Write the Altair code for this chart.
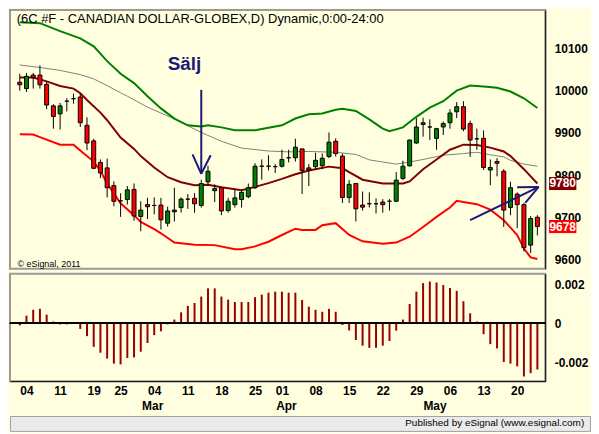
import json
import altair as alt
import numpy as np
import pandas as pd

# ---------------- data ----------------
opens = [10020, 10005, 10037, 10037, 10015, 9964, 9945, 9975, 9981, 9985,
         9918, 9881, 9830, 9817, 9775, 9739, 9742, 9766, 9702, 9730,
         9728, 9729, 9686, 9713, 9723, 9743, 9745, 9728, 9784, 9763,
         9770, 9716, 9730, 9742, 9749, 9770, 9821, 9821, 9820, 9821,
         9841, 9841, 9862, 9817, 9820, 9822, 9844, 9880, 9845, 9747,
         9780, 9729, 9732, 9732, 9736, 9738, 9738, 9792, 9822, 9876,
         9920, 9914, 9887, 9914, 9924, 9950, 9962, 9922, 9886, 9887,
         9812, 9832, 9809, 9723, 9755, 9730, 9634, 9700]
highs = [10040, 10042, 10042, 10060, 10021, 9968, 9971, 9982, 9993, 9993,
         9937, 9886, 9837, 9839, 9785, 9757, 9774, 9780, 9738, 9746,
         9747, 9746, 9725, 9770, 9747, 9755, 9757, 9789, 9822, 9778,
         9772, 9746, 9766, 9765, 9780, 9828, 9837, 9847, 9826, 9860,
         9860, 9886, 9862, 9826, 9853, 9851, 9901, 9887, 9851, 9788,
         9780, 9761, 9759, 9745, 9743, 9743, 9807, 9834, 9884, 9935,
         9936, 9932, 9912, 9927, 9956, 9973, 9975, 9929, 9910, 9906,
         9837, 9840, 9814, 9784, 9759, 9734, 9703, 9705]
lows = [10000, 9997, 10005, 10005, 9956, 9910, 9908, 9951, 9969, 9914,
        9859, 9814, 9793, 9747, 9726, 9701, 9730, 9692, 9667, 9696,
        9707, 9671, 9678, 9690, 9711, 9720, 9711, 9723, 9778, 9736,
        9705, 9711, 9723, 9723, 9745, 9767, 9789, 9811, 9805, 9818,
        9830, 9832, 9755, 9774, 9814, 9814, 9840, 9844, 9734, 9734,
        9690, 9716, 9723, 9709, 9711, 9716, 9736, 9788, 9820, 9874,
        9891, 9883, 9860, 9895, 9910, 9935, 9904, 9843, 9860, 9812,
        9776, 9797, 9677, 9705, 9674, 9619, 9615, 9657]
closes = [10014, 10034, 10031, 10014, 9966, 9939, 9964, 9975, 9981, 9924,
          9876, 9816, 9805, 9770, 9738, 9739, 9765, 9703, 9717, 9725,
          9728, 9694, 9715, 9717, 9743, 9743, 9732, 9780, 9809, 9768,
          9715, 9738, 9746, 9759, 9770, 9821, 9821, 9821, 9820, 9837,
          9841, 9866, 9811, 9812, 9835, 9840, 9878, 9851, 9747, 9778,
          9720, 9724, 9732, 9732, 9730, 9738, 9788, 9821, 9883, 9914,
          9924, 9914, 9910, 9922, 9947, 9962, 9909, 9883, 9886, 9818,
          9818, 9828, 9717, 9770, 9730, 9628, 9697, 9678]

oscillator = [-0.0001, 0.0004, 0.0007, 0.00075, 0.00045, 0.0001, -0.00005, -0.00005, 0.00002, -0.00028,
              -0.00065, -0.0012, -0.0015, -0.0018, -0.00206, -0.0021, -0.00177, -0.00174, -0.00145, -0.001,
              -0.0006, -0.0004, -0.00005, 0.0002, 0.00057, 0.0009, 0.00105, 0.00138, 0.0018, 0.0018,
              0.00138, 0.00122, 0.0011, 0.0011, 0.0011, 0.00135, 0.00148, 0.00158, 0.00163, 0.00163,
              0.00158, 0.00158, 0.0012, 0.00086, 0.0007, 0.0006, 0.00075, 0.0006, -0.00008, -0.00036,
              -0.00085, -0.00114, -0.00125, -0.00125, -0.00114, -0.0009, -0.00037, 0.0002, 0.001, 0.00163,
              0.00207, 0.00215, 0.0021, 0.00197, 0.00182, 0.00167, 0.00114, 0.00052, 0.0001, -0.00055,
              -0.00106, -0.00128, -0.00198, -0.00206, -0.0022, -0.00272, -0.00255, -0.00236]

upper_idx = [0, 3, 6, 9, 11, 13, 15, 17, 19, 21, 23, 25, 27, 28, 30, 32, 35, 37, 39, 41, 43, 45, 47, 48,
             50, 52, 54, 55, 57, 59, 61, 63, 65, 67, 69, 71, 73, 75, 77]
upper_val = [10162, 10160, 10141, 10124, 10105, 10070, 10040, 10018, 9987, 9958, 9934, 9918, 9915, 9918,
             9913, 9906, 9906, 9912, 9918, 9934, 9944, 9946, 9955, 9957, 9952, 9932, 9910, 9904, 9913,
             9938, 9960, 9975, 10000, 10012, 10010, 10007, 9998, 9982, 9959]

mid_idx = [0, 2, 4, 6, 8, 9, 10, 12, 13, 15, 17, 18, 20, 22, 24, 26, 28, 30, 33, 35, 37, 39, 41, 43,
           46, 48, 49, 51, 54, 57, 58, 60, 62, 64, 66, 68, 70, 72, 73, 75, 77]
mid_val = [10031, 10031, 10022, 10011, 10005, 9994, 9978, 9948, 9930, 9889, 9862, 9845, 9818, 9795,
           9783, 9776, 9777, 9771, 9764, 9772, 9781, 9791, 9802, 9811, 9820, 9816, 9807, 9789, 9780,
           9780, 9785, 9814, 9837, 9860, 9872, 9871, 9865, 9856, 9845, 9814, 9780]

lower_idx = [0, 2, 3, 6, 8, 9, 11, 12, 13, 15, 17, 18, 20, 21, 23, 26, 29, 32, 33, 35, 37, 39, 41, 42,
             44, 45, 47, 48, 49, 51, 54, 56, 58, 60, 62, 64, 65, 66, 68, 70, 72, 74, 75, 76, 77]
lower_val = [9897, 9896, 9890, 9872, 9872, 9858, 9832, 9810, 9780, 9733, 9705, 9689, 9672, 9662, 9640,
             9635, 9634, 9624, 9624, 9631, 9642, 9658, 9673, 9670, 9670, 9681, 9686, 9672, 9658, 9643,
             9637, 9640, 9654, 9677, 9701, 9723, 9739, 9736, 9731, 9718, 9693, 9658, 9626, 9605, 9601]

avg_idx = [0, 3, 6, 9, 11, 13, 15, 16, 19, 23, 27, 30, 33, 37, 40, 43, 47, 50, 52, 54, 56, 58, 60, 63,
           66, 68, 70, 72, 73, 75, 77]
avg_val = [10061, 10055, 10048, 10038, 10028, 10012, 9995, 9987, 9961, 9933, 9901, 9880, 9864, 9857,
           9855, 9856, 9854, 9849, 9836, 9831, 9826, 9831, 9837, 9847, 9851, 9854, 9848, 9843, 9835,
           9826, 9821]

day_idx = [1, 6, 11, 15, 20, 25, 30, 35, 39, 44, 49, 54, 59, 64, 69, 74]
day_lab = ["04", "11", "19", "25", "04", "11", "18", "25", "01", "08", "15", "22", "29", "06", "13", "20"]
month_pos = [19.7, 39.6, 61.7]
month_lab = ["Mar", "Apr", "May"]

price_ticks = [9600, 9700, 9800, 9900, 10000, 10100]
osc_ticks = [-0.002, 0, 0.002]

title_text = "(6C #F - CANADIAN DOLLAR-GLOBEX,D) Dynamic,0:00-24:00"
copyright_text = "\u00a9 eSignal, 2011"
signal_text = "S\u00e4lj"
footer_text = "Published by eSignal (www.esignal.com)"

# annotation arrows (in index / price units)
arrow_x1 = [27, 25.7, 28.4, 67, 74, 75.2]
arrow_y1 = [10002, 9849, 9847, 9693, 9771, 9734]
arrow_x2 = [27, 27, 27, 77.2, 77.2, 77.2]
arrow_y2 = [9803, 9803, 9803, 9772, 9772, 9772]

last_labels = ["9780", "9678"]
last_values = [9780, 9678]
last_colors = ["#800000", "#FF0000"]

# ---------------- chart ----------------
BG = "#FFFFE0"
FONT = "Liberation Sans"
W = 538
TOP_H = 260
BOT_H = 108
XDOM = [-0.714, 77.43]
YDOM = [9578, 10191]
ODOM = [-0.00296, 0.00255]

n = len(opens)
o = np.array(opens)
c = np.array(closes)
candles = pd.DataFrame({"i": np.arange(n), "open": opens, "high": highs, "low": lows, "close": closes,
                        "dir": np.where(c > o, "up", np.where(c < o, "down", "flat"))})

xs = alt.Scale(domain=XDOM, nice=False, zero=False)
ys = alt.Scale(domain=YDOM, nice=False, zero=False)

price_axis = alt.Axis(orient="right", values=price_ticks, format="d", ticks=False, grid=False,
                      domainColor="black", domainWidth=1, labelFont=FONT, labelFontWeight="bold",
                      labelFontSize=12, labelColor="black", labelPadding=9, title=None)


def line_layer(idx, val, color, width):
    df = pd.DataFrame({"i": idx, "v": val})
    return alt.Chart(df).mark_line(color=color, strokeWidth=width).encode(
        x=alt.X("i:Q", scale=xs, axis=None),
        y=alt.Y("v:Q", scale=ys, axis=price_axis))


gray_l = line_layer(avg_idx, avg_val, "#808080", 1)
upper_l = line_layer(upper_idx, upper_val, "#008000", 2)
lower_l = line_layer(lower_idx, lower_val, "#FF0000", 2)
mid_l = line_layer(mid_idx, mid_val, "#800000", 2)

wick = alt.Chart(candles).mark_rule(color="black", strokeWidth=1).encode(
    x=alt.X("i:Q", scale=xs, axis=None),
    y=alt.Y("low:Q", scale=ys, axis=price_axis),
    y2="high:Q")
body = alt.Chart(candles).mark_bar(width=4, stroke="black", strokeWidth=1).encode(
    x=alt.X("i:Q", scale=xs, axis=None),
    y=alt.Y("open:Q", scale=ys, axis=price_axis),
    y2="close:Q",
    color=alt.Color("dir:N", scale=alt.Scale(domain=["up", "down", "flat"],
                                             range=["#008000", "#FF0000", "#000000"]), legend=None))

arrows_df = pd.DataFrame({"x1": arrow_x1, "y1": arrow_y1, "x2": arrow_x2, "y2": arrow_y2})
arrows = alt.Chart(arrows_df).mark_rule(color="#1A1A78", strokeWidth=2).encode(
    x=alt.X("x1:Q", scale=xs, axis=None), y=alt.Y("y1:Q", scale=ys, axis=price_axis),
    x2="x2:Q", y2="y2:Q")

txt_df = pd.DataFrame({"x": [-0.45], "y": [10170], "t": [title_text]})
title_t = alt.Chart(txt_df).mark_text(align="left", baseline="middle", font=FONT, fontSize=13,
                                      color="black").encode(
    x=alt.X("x:Q", scale=xs, axis=None), y=alt.Y("y:Q", scale=ys, axis=price_axis), text="t:N")

copy_df = pd.DataFrame({"x": [-0.35], "y": [9590], "t": [copyright_text]})
copy_t = alt.Chart(copy_df).mark_text(align="left", baseline="middle", font=FONT, fontSize=9,
                                      color="black").encode(
    x=alt.X("x:Q", scale=xs, axis=None), y=alt.Y("y:Q", scale=ys, axis=price_axis), text="t:N")

sig_df = pd.DataFrame({"x": [24.5], "y": [10063], "t": [signal_text]})
sig_t = alt.Chart(sig_df).mark_text(align="center", baseline="middle", font=FONT, fontSize=19,
                                    fontWeight="bold", color="#1A1A78").encode(
    x=alt.X("x:Q", scale=xs, axis=None), y=alt.Y("y:Q", scale=ys, axis=price_axis), text="t:N")

box_df = pd.DataFrame({"x1": [78.74] * 2, "x2": [82.8] * 2,
                       "lo": [v - 15.5 for v in last_values], "hi": [v + 15.5 for v in last_values],
                       "v": last_values, "t": last_labels, "c": last_colors, "xm": [80.77] * 2})
boxes = alt.Chart(box_df).mark_rect().encode(
    x=alt.X("x1:Q", scale=xs, axis=None), x2="x2:Q",
    y=alt.Y("lo:Q", scale=ys, axis=price_axis), y2="hi:Q",
    color=alt.Color("c:N", scale=None))
box_t = alt.Chart(box_df).mark_text(align="center", baseline="middle", font=FONT, fontSize=12,
                                    fontWeight="bold", color="white").encode(
    x=alt.X("xm:Q", scale=xs, axis=None), y=alt.Y("v:Q", scale=ys, axis=price_axis), text="t:N")

top = alt.layer(gray_l, upper_l, lower_l, mid_l, wick, body, arrows, title_t, copy_t, sig_t,
                boxes, box_t).properties(
    width=W, height=TOP_H,
    view=alt.ViewBackground(fill=BG, stroke="#9A9A9A", strokeWidth=2))

# lower panel
osc_df = pd.DataFrame({"i": np.arange(n), "v": oscillator})
os_ = alt.Scale(domain=ODOM, nice=False, zero=False)
day_expr = "%s[indexof(%s, datum.value)]" % (json.dumps(day_lab), json.dumps(day_idx))
mon_expr = "%s[indexof(%s, datum.value)]" % (json.dumps(month_lab), json.dumps(month_pos))
osc_axis = alt.Axis(orient="right", values=osc_ticks, ticks=False, grid=False, domainColor="black",
                    labelFont=FONT, labelFontWeight="bold", labelFontSize=12, labelColor="black",
                    labelPadding=9, title=None,
                    labelExpr="datum.value > 0.001 ? '0.002' : (datum.value < -0.001 ? '-0.002' : '0')")
day_axis = alt.Axis(orient="bottom", values=day_idx, labelExpr=day_expr, ticks=False, grid=False,
                    domainColor="black", labelFont=FONT, labelFontWeight="bold", labelFontSize=12,
                    labelColor="black", labelPadding=4, title=None)
mon_axis = alt.Axis(orient="bottom", values=month_pos, labelExpr=mon_expr, ticks=False, grid=False,
                    domain=False, labelFont=FONT, labelFontWeight="bold", labelFontSize=12,
                    labelColor="black", labelPadding=4, offset=15, title=None)

hist = alt.Chart(osc_df).mark_bar(width=2, color="#990000").encode(
    x=alt.X("i:Q", scale=xs, axis=day_axis),
    y=alt.Y("v:Q", scale=os_, axis=osc_axis),
    y2=alt.datum(0))
zero = alt.Chart(osc_df).mark_rule(color="black", strokeWidth=1).encode(
    y=alt.datum(0, scale=os_))
mon = alt.Chart(osc_df).mark_point(opacity=0).encode(
    x=alt.X("i:Q", scale=xs, axis=mon_axis),
    y=alt.Y("v:Q", scale=os_, axis=osc_axis))

bottom = alt.layer(hist, zero, mon).resolve_axis(x="independent").properties(
    width=W, height=BOT_H,
    view=alt.ViewBackground(fill=BG, stroke="#9A9A9A", strokeWidth=2))

foot_df = pd.DataFrame({"t": [footer_text]})
footer = alt.Chart(foot_df).mark_text(align="right", baseline="middle", font=FONT, fontSize=10,
                                      color="black").encode(
    x=alt.X(datum=0.99, scale=alt.Scale(domain=[0, 1]), axis=None),
    y=alt.Y(datum=0.5, scale=alt.Scale(domain=[0, 1]), axis=None),
    text="t:N").properties(width=583, height=15,
                           view=alt.ViewBackground(fill="#EBEBEB", stroke="#A0A0A0", strokeWidth=1))

chart = alt.vconcat(top, bottom, footer, spacing=3).properties(
    background=BG, padding=0).configure_view(stroke=None)

chart.save("out.html", embed_options={"renderer": "svg", "actions": False})
